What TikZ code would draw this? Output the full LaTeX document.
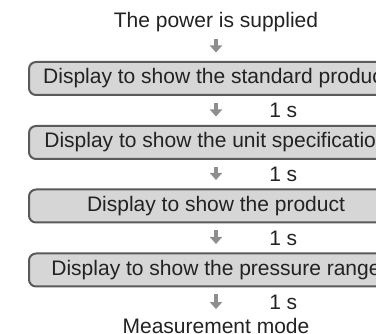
\documentclass[tikz,border=0pt]{standalone}
\usepackage{fontspec}
\setmainfont{Liberation Sans}
\usetikzlibrary{arrows.meta,positioning}

\definecolor{boxfill}{HTML}{D6D6D6}
\definecolor{boxline}{HTML}{5A5A5A}
\definecolor{arrowgray}{HTML}{8E8E8E}
\definecolor{textgray}{HTML}{222222}

\begin{document}
\begin{tikzpicture}[x=1pt,y=1pt,
   font=\fontsize{21}{25}\selectfont,text=textgray,
   dispbox/.style={draw=boxline,line width=2pt,fill=boxfill,rounded corners=7pt,
      minimum width=374pt,minimum height=33pt,inner sep=0pt},
   flow/.style={draw=arrowgray,line width=4.5pt,-{Triangle[width=12pt,length=7pt]},
      shorten <=7pt,shorten >=8.5pt},
   delay/.style={right=51pt,inner sep=0pt,text=textgray}]
   \useasboundingbox (0,0) rectangle (376,-334);
   \clip (0,0) rectangle (376,-334);
   \node[inner sep=0pt] (power) at (216,-22) {The power is supplied};
   \node[dispbox] (std) at (216,-78.5) {Display to show the standard product};
   \node[dispbox] (unit) at (216,-142.5) {Display to show the unit specification};
   \node[dispbox] (prod) at (216,-206) {Display to show the product};
   \node[dispbox] (range) at (216,-270) {Display to show the pressure range};
   \node[inner sep=0pt] (meas) at (216,-325.5) {Measurement mode};
   \draw[flow] (power) -- (std);
   \draw[flow] (std) -- node[delay] {1 s} (unit);
   \draw[flow] (unit) -- node[delay] {1 s} (prod);
   \draw[flow] (prod) -- node[delay] {1 s} (range);
   \draw[flow] (range) -- node[delay] {1 s} (meas);
\end{tikzpicture}
\end{document}
